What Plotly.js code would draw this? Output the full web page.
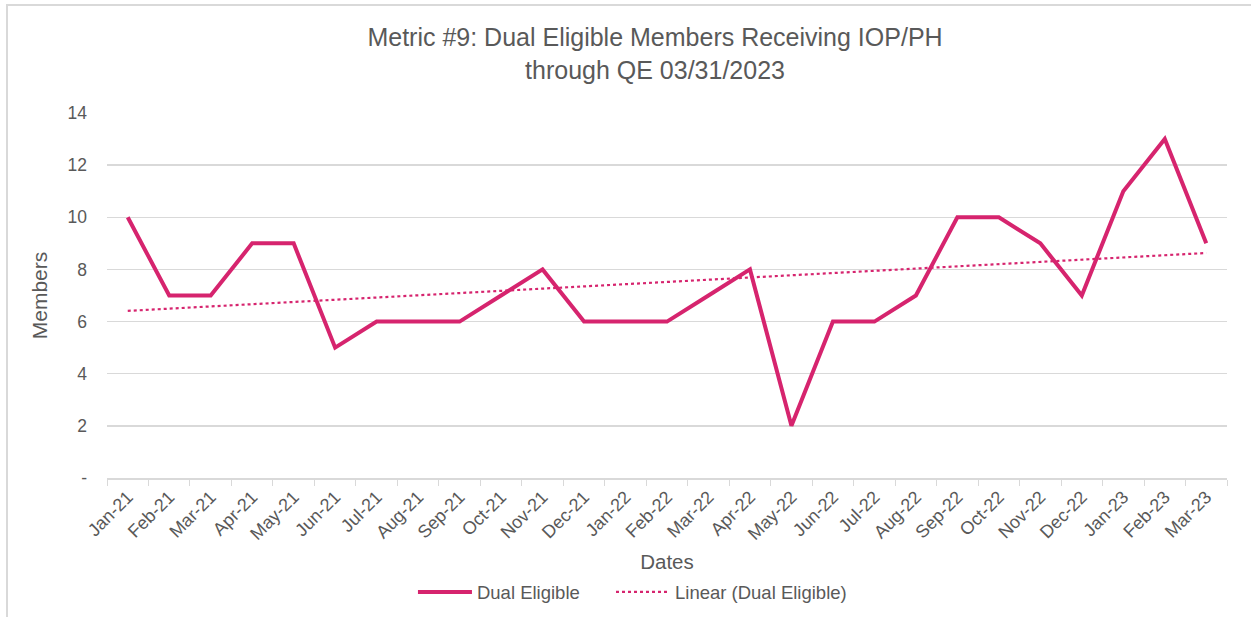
<!DOCTYPE html>
<html>
<head>
<meta charset="utf-8">
<script src="https://cdn.plot.ly/plotly-3.0.1.min.js"></script>
<style>
  html, body { margin: 0; padding: 0; background: #fff; overflow: hidden; }
  #chart { width: 1251px; height: 617px; }
  #frame { position: absolute; left: 6px; top: 4px; width: 1260px; height: 630px;
           border: 2px solid #d9d9d9; box-sizing: border-box; pointer-events: none; }
</style>
</head>
<body>
<div id="chart"></div>
<div id="frame"></div>
<script>
const months = ["Jan-21","Feb-21","Mar-21","Apr-21","May-21","Jun-21","Jul-21","Aug-21","Sep-21",
  "Oct-21","Nov-21","Dec-21","Jan-22","Feb-22","Mar-22","Apr-22","May-22","Jun-22","Jul-22",
  "Aug-22","Sep-22","Oct-22","Nov-22","Dec-22","Jan-23","Feb-23","Mar-23"];
const dualEligible = [10,7,7,9,9,5,6,6,6,7,8,6,6,6,7,8,2,6,6,7,10,10,9,7,11,13,9];
const trendX = ["Jan-21","Mar-23"];
const trendY = [6.41, 8.63];
const yTickVals = [0,2,4,6,8,10,12,14];
const yTickText = ["-","2","4","6","8","10","12","14"];

const color = "#d6246e";
const textColor = "#595959";
const font = "Liberation Sans, Arial, sans-serif";

const traces = [
  { x: months, y: dualEligible, type: "scatter", mode: "lines", name: "Dual Eligible",
    line: { color: color, width: 4 }, legend: "legend" },
  { x: trendX, y: trendY, type: "scatter", mode: "lines", name: "Linear (Dual Eligible)",
    line: { color: color, width: 2.2, dash: "dot" }, legend: "legend2" }
];

const legendBase = { orientation: "h", xanchor: "left", xref: "container",
  y: 0.009, yref: "container", yanchor: "bottom",
  font: { size: 18.5, color: textColor }, itemwidth: 54, tracegroupgap: 0 };

const layout = {
  width: 1251, height: 617,
  margin: { l: 107, r: 24, t: 113, b: 139 },
  paper_bgcolor: "#fff", plot_bgcolor: "#fff",
  font: { family: font, color: textColor, size: 16 },
  title: { text: "Metric #9: Dual Eligible Members Receiving IOP/PH<br>through QE 03/31/2023",
           x: 0.5236, xref: "container", xanchor: "center", y: 0.925, yanchor: "top",
           font: { size: 25, color: textColor, family: font } },
  xaxis: {
    type: "category", categoryorder: "array", categoryarray: months,
    range: [-0.5, months.length - 0.5],
    tickangle: -45, tickfont: { size: 18, color: textColor },
    ticks: "outside", tickson: "boundaries", ticklen: 6, tickcolor: "#d9d9d9",
    showline: true, linecolor: "#d9d9d9", linewidth: 1.5,
    showgrid: false, zeroline: false,
    title: { text: "Dates", font: { size: 20.5, color: textColor }, standoff: 33 }
  },
  yaxis: {
    range: [0, 14], tickvals: yTickVals, ticktext: yTickText,
    tickfont: { size: 17.5, color: textColor },
    showgrid: true, gridcolor: "#d9d9d9", gridwidth: 1.5,
    zeroline: false, showline: false, ticks: "", ticklabelstandoff: 19,
    title: { text: "Members", font: { size: 21, color: textColor }, standoff: 14 }
  },
  showlegend: true,
  legend: Object.assign({}, legendBase, { x: 0.3301 }),
  legend2: Object.assign({}, legendBase, { x: 0.4884 })
};

Plotly.newPlot("chart", traces, layout, { displayModeBar: false, staticPlot: true });
</script>
</body>
</html>
